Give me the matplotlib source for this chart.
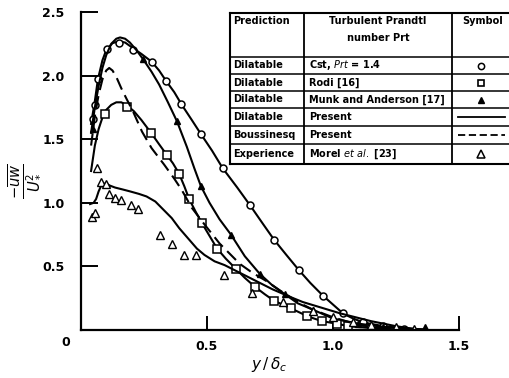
import matplotlib
matplotlib.use("Agg")
import matplotlib.pyplot as plt
from matplotlib.lines import Line2D

# ---- data ----
circ_line_x = [0.04, 0.055, 0.067, 0.085, 0.10, 0.125, 0.15, 0.175, 0.20, 0.24, 0.28, 0.31, 0.337, 0.37, 0.40, 0.44, 0.476, 0.52, 0.563, 0.62, 0.671, 0.72, 0.766, 0.815, 0.865, 0.91, 0.96, 1.0, 1.04, 1.08, 1.12, 1.20, 1.30, 1.37]
circ_line_y = [1.62, 1.80, 1.97, 2.12, 2.20, 2.255, 2.27, 2.26, 2.225, 2.17, 2.11, 2.04, 1.96, 1.87, 1.77, 1.65, 1.54, 1.41, 1.27, 1.12, 0.98, 0.84, 0.71, 0.59, 0.47, 0.37, 0.27, 0.20, 0.13, 0.09, 0.06, 0.03, 0.01, 0.0]
circ_x = [0.048, 0.056, 0.067, 0.103, 0.151, 0.206, 0.282, 0.337, 0.397, 0.476, 0.563, 0.671, 0.766, 0.865, 0.96, 1.04, 1.12, 1.20, 1.28]
circ_y = [1.66, 1.77, 1.97, 2.21, 2.26, 2.20, 2.11, 1.96, 1.78, 1.54, 1.27, 0.98, 0.71, 0.47, 0.27, 0.13, 0.06, 0.03, 0.01]

munk_line_x = [0.04, 0.055, 0.07, 0.085, 0.10, 0.12, 0.14, 0.155, 0.175, 0.194, 0.22, 0.246, 0.28, 0.31, 0.345, 0.381, 0.42, 0.45, 0.476, 0.51, 0.55, 0.595, 0.65, 0.71, 0.76, 0.81, 0.86, 0.92, 1.0, 1.1, 1.2, 1.3, 1.37]
munk_line_y = [1.55, 1.75, 1.92, 2.06, 2.16, 2.25, 2.29, 2.30, 2.29, 2.26, 2.20, 2.13, 2.03, 1.93, 1.79, 1.64, 1.44, 1.27, 1.13, 1.00, 0.87, 0.75, 0.58, 0.44, 0.35, 0.28, 0.21, 0.16, 0.09, 0.05, 0.025, 0.01, 0.005]
munk_x = [0.046, 0.246, 0.381, 0.476, 0.595, 0.71, 0.81, 0.92, 1.0, 1.1, 1.2, 1.365]
munk_y = [1.58, 2.13, 1.64, 1.13, 0.75, 0.44, 0.28, 0.16, 0.09, 0.05, 0.025, 0.02]

rodi_line_x = [0.04, 0.055, 0.07, 0.085, 0.10, 0.12, 0.14, 0.16, 0.183, 0.21, 0.24, 0.278, 0.31, 0.341, 0.365, 0.389, 0.41, 0.429, 0.455, 0.48, 0.51, 0.54, 0.575, 0.615, 0.65, 0.69, 0.73, 0.766, 0.80, 0.833, 0.865, 0.897, 0.925, 0.956, 0.99, 1.016, 1.06, 1.15, 1.25]
rodi_line_y = [1.25, 1.45, 1.58, 1.67, 1.73, 1.77, 1.79, 1.79, 1.765, 1.72, 1.65, 1.55, 1.46, 1.375, 1.31, 1.23, 1.13, 1.03, 0.93, 0.84, 0.74, 0.64, 0.56, 0.48, 0.41, 0.34, 0.28, 0.23, 0.20, 0.17, 0.14, 0.11, 0.09, 0.07, 0.058, 0.05, 0.03, 0.015, 0.005]
rodi_x = [0.095, 0.183, 0.278, 0.341, 0.389, 0.429, 0.48, 0.54, 0.615, 0.69, 0.766, 0.833, 0.897, 0.956, 1.016, 1.06]
rodi_y = [1.70, 1.75, 1.55, 1.375, 1.23, 1.03, 0.84, 0.64, 0.48, 0.34, 0.23, 0.17, 0.11, 0.07, 0.05, 0.03]

bous_x = [0.04, 0.055, 0.07, 0.085, 0.10, 0.112, 0.125, 0.14, 0.16, 0.18, 0.206, 0.242, 0.28, 0.33, 0.37, 0.40, 0.44, 0.49, 0.55, 0.59, 0.63, 0.68, 0.74, 0.79, 0.83, 0.88, 0.92, 0.96, 1.0, 1.05, 1.1, 1.17, 1.25]
bous_y = [1.45, 1.68, 1.85, 1.97, 2.04, 2.06, 2.04, 1.99, 1.90, 1.82, 1.72, 1.56, 1.43, 1.30, 1.19, 1.10, 0.96, 0.83, 0.68, 0.60, 0.52, 0.45, 0.38, 0.31, 0.26, 0.20, 0.16, 0.13, 0.10, 0.07, 0.04, 0.02, 0.0]

pres_x = [0.036, 0.05, 0.06, 0.07, 0.079, 0.09, 0.10, 0.115, 0.135, 0.165, 0.194, 0.23, 0.26, 0.295, 0.325, 0.36, 0.39, 0.425, 0.46, 0.49, 0.53, 0.57, 0.60, 0.65, 0.70, 0.76, 0.83, 0.88, 0.93, 0.98, 1.03, 1.09, 1.15, 1.20, 1.25, 1.30, 1.35]
pres_y = [0.99, 1.00, 1.03, 1.09, 1.13, 1.15, 1.15, 1.135, 1.12, 1.105, 1.09, 1.07, 1.05, 1.01, 0.95, 0.88, 0.80, 0.72, 0.64, 0.59, 0.54, 0.51, 0.48, 0.43, 0.38, 0.32, 0.26, 0.22, 0.19, 0.16, 0.13, 0.10, 0.07, 0.05, 0.03, 0.015, 0.0]

exp_x = [0.044, 0.056, 0.063, 0.08, 0.10, 0.11, 0.135, 0.158, 0.20, 0.226, 0.313, 0.36, 0.41, 0.456, 0.567, 0.68, 0.80, 0.92, 1.0, 1.08, 1.15, 1.25, 1.32]
exp_y = [0.89, 0.92, 1.27, 1.16, 1.15, 1.07, 1.04, 1.02, 0.98, 0.95, 0.75, 0.68, 0.59, 0.59, 0.43, 0.29, 0.22, 0.15, 0.10, 0.06, 0.04, 0.02, 0.01]

x_ticks = [0.5, 1.0, 1.5]
x_ticklabels = ["0.5", "1.0", "1.5"]
y_ticks = [0.5, 1.0, 1.5, 2.0, 2.5]
y_ticklabels = ["0.5", "1.0", "1.5", "2.0", "2.5"]

table_header = ["Prediction", "Turbulent Prandtl", "number Prt", "Symbol"]
table_pred = ["Dilatable", "Dilatable", "Dilatable", "Dilatable", "Boussinesq", "Experience"]
table_prt = ["Cst, $Prt$ = 1.4", "Rodi [16]", "Munk and Anderson [17]", "Present", "Present", "Morel $et\\ al.$ [23]"]

# ---- figure ----
W, H = 509, 378
plt.rcParams['font.family'] = ['DejaVu Sans']
plt.rcParams['mathtext.fontset'] = 'dejavusans'
fig = plt.figure(figsize=(W / 100, H / 100), dpi=100)

def fx(px):
    return px / W

def fy(py):
    return 1 - py / H

ax = fig.add_axes([fx(81), fy(330), fx(459) - fx(81), fy(12) - fy(330)])
ax.set_xlim(0, 1.5)
ax.set_ylim(0, 2.5)
for s in ["top", "right"]:
    ax.spines[s].set_visible(False)
ax.spines["left"].set_linewidth(1.6)
ax.spines["bottom"].set_linewidth(1.6)

lw = 1.5
ax.plot(circ_line_x, circ_line_y, color="black", lw=lw)
ax.plot(circ_x, circ_y, ls="none", marker="o", ms=5, mfc="white", mec="black", mew=1.1)
ax.plot(munk_line_x, munk_line_y, color="black", lw=lw)
ax.plot(munk_x, munk_y, ls="none", marker="^", ms=4.5, mfc="black", mec="black")
ax.plot(rodi_line_x, rodi_line_y, color="black", lw=lw)
ax.plot(rodi_x, rodi_y, ls="none", marker="s", ms=6, mfc="white", mec="black", mew=1.1)
ax.plot(bous_x, bous_y, color="black", lw=lw, ls=(0, (6, 3)))
ax.plot(pres_x, pres_y, color="black", lw=lw)
ax.plot(exp_x, exp_y, ls="none", marker="^", ms=6, mfc="white", mec="black", mew=1.0)

ax.set_xticks(x_ticks)
ax.set_xticklabels(x_ticklabels, fontsize=9, fontweight="bold")
ax.set_yticks(y_ticks)
ax.set_yticklabels(y_ticklabels, fontsize=9, fontweight="bold")
ax.tick_params(axis="y", direction="in", length=12, width=1.4, pad=12)
ax.tick_params(axis="x", direction="in", length=10, width=1.4, pad=7)
fig.text(fx(66), fy(343), "0", fontsize=9, fontweight="bold", ha="center", va="center")

fig.text(fx(269), fy(365), r"$y\,/\,\delta_c$", fontsize=11, ha="center", va="center")
fig.text(fx(24), fy(181), r"$\frac{-\overline{uw}}{U_*^2}$", fontsize=15, rotation=90,
         ha="center", va="center")

# ---- table legend ----
tl, c1, c2, tr = 230, 304, 452, 509
rows = [13, 57, 74, 91, 108, 126, 144, 164]

def hline(py, x0=tl, x1=tr, lw=1.3):
    fig.add_artist(Line2D([fx(x0), fx(x1)], [fy(py), fy(py)], color="black", lw=lw))

def vline(px, y0, y1, lw=1.3):
    fig.add_artist(Line2D([fx(px), fx(px)], [fy(y0), fy(y1)], color="black", lw=lw))

for r in rows:
    hline(r, lw=1.5 if r in (13, 164) else 1.1)
vline(tl, 13, 164, lw=1.5)
vline(c1, 13, 164)
vline(c2, 13, 164)

tfs = 7
fig.text(fx(233), fy(21), table_header[0], fontsize=tfs, fontweight="bold", ha="left", va="center")
fig.text(fx(378), fy(21), table_header[1], fontsize=tfs, fontweight="bold", ha="center", va="center")
fig.text(fx(378), fy(38), table_header[2], fontsize=tfs, fontweight="bold", ha="center", va="center")
fig.text(fx(462), fy(21), table_header[3], fontsize=tfs, fontweight="bold", ha="left", va="center")

def ycen(i):
    return (rows[i + 1] + rows[i + 2]) / 2

for i in range(6):
    yc = ycen(i)
    fig.text(fx(233), fy(yc), table_pred[i], fontsize=tfs, fontweight="bold", ha="left", va="center")
    fig.text(fx(309), fy(yc), table_prt[i], fontsize=tfs, fontweight="bold", ha="left", va="center")

sx = 481
fig.add_artist(Line2D([fx(sx)], [fy(ycen(0))], ls="none", marker="o", ms=4.5, mfc="white", mec="black", mew=1.1))
fig.add_artist(Line2D([fx(sx)], [fy(ycen(1))], ls="none", marker="s", ms=5, mfc="white", mec="black", mew=1.2))
fig.add_artist(Line2D([fx(sx)], [fy(ycen(2))], ls="none", marker="^", ms=4, mfc="black", mec="black"))
fig.add_artist(Line2D([fx(458), fx(505)], [fy(ycen(3)), fy(ycen(3))], color="black", lw=1.3))
fig.add_artist(Line2D([fx(458), fx(505)], [fy(ycen(4)), fy(ycen(4))], color="black", lw=1.3, ls=(0, (4, 2))))
fig.add_artist(Line2D([fx(sx)], [fy(ycen(5))], ls="none", marker="^", ms=5.5, mfc="white", mec="black", mew=1.1))

fig.savefig("out.png", dpi=100)
